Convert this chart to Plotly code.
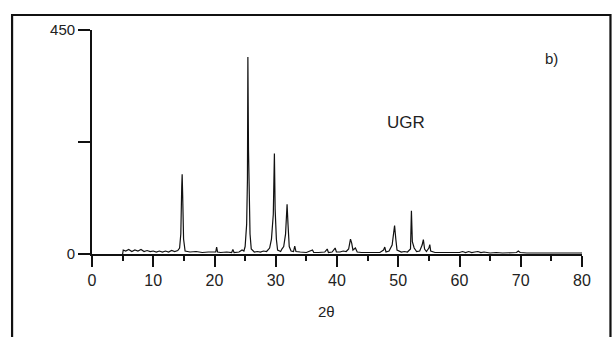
import plotly.graph_objects as go

# XRD pattern (2-theta in degrees, intensity)
two_theta = [5.0, 5.1, 5.5, 6.0, 6.5, 7.0, 7.5, 8.0, 8.5, 9.0, 9.5, 10.0, 10.5, 11.0, 11.5, 12.0, 12.5,
             13.0, 13.5, 14.0, 14.3, 14.5, 14.65, 14.72, 14.8, 14.95, 15.2, 16.0, 17.0, 18.0, 19.0, 20.0,
             20.2, 20.35, 20.5, 21.0, 22.0, 22.8, 23.0, 23.2, 24.0, 24.5, 24.8, 25.0, 25.25, 25.38, 25.45,
             25.55, 25.65, 25.8, 26.0, 26.5, 27.0, 27.5, 28.0, 28.5, 29.0, 29.3, 29.6, 29.78, 29.9, 30.1,
             30.3, 30.8, 31.0, 31.3, 31.6, 31.85, 32.0, 32.2, 32.5, 32.9, 33.1, 33.3, 34.0, 35.0, 36.0,
             36.2, 37.0, 38.0, 38.4, 38.6, 39.2, 39.7, 39.9, 40.5, 41.0, 41.5, 41.9, 42.2, 42.4, 42.6,
             43.0, 43.3, 44.0, 45.0, 46.0, 47.0, 47.6, 47.8, 48.0, 48.5, 49.0, 49.2, 49.4, 49.6, 49.8,
             50.5, 51.0, 51.5, 52.0, 52.15, 52.3, 52.6, 53.0, 53.5, 53.9, 54.1, 54.3, 54.6, 55.0, 55.15,
             55.3, 56.0, 57.0, 58.0, 59.0, 60.0, 60.5, 61.0, 61.5, 62.0, 62.5, 63.0, 63.5, 64.0, 65.0,
             66.0, 67.0, 68.0, 69.3, 69.6, 69.9, 71.0, 72.0, 75.0, 78.0, 80.0]
intensity = [0, 8, 6, 9, 5, 8, 6, 9, 5, 7, 5, 6, 4, 6, 4, 6, 4,
             7, 5, 7, 12, 40, 135, 160, 120, 30, 6, 4, 5, 3, 4, 3,
             4, 14, 4, 3, 4, 3, 9, 3, 4, 8, 6, 15, 60, 150, 396,
             210, 100, 40, 10, 4, 5, 4, 6, 5, 12, 30, 80, 202, 90, 30,
             8, 5, 10, 15, 40, 100, 60, 15, 6, 5, 16, 5, 4, 3, 8,
             3, 3, 4, 10, 3, 4, 12, 4, 4, 6, 5, 10, 30, 22, 8,
             12, 4, 3, 3, 4, 3, 8, 14, 4, 6, 18, 40, 57, 30, 8,
             4, 5, 4, 10, 87, 25, 12, 5, 6, 18, 29, 10, 5, 12, 19,
             6, 3, 3, 3, 2, 3, 5, 3, 5, 3, 4, 5, 3, 4, 2,
             3, 2, 3, 3, 6, 3, 2, 2, 2, 2, 2]

x_ticks = [0, 10, 20, 30, 40, 50, 60, 70, 80]
x_minor_ticks = [5, 15, 25, 35, 45, 55, 65, 75]
y_ticks = [0, 225, 450]
y_tick_text = ["0", "", "450"]

FONT = "Liberation Sans, Arial, sans-serif"

fig = go.Figure()
fig.add_trace(go.Scatter(x=two_theta, y=intensity, mode="lines",
                         line=dict(color="#111111", width=1.2), showlegend=False,
                         hoverinfo="skip"))

# plot area pixels: x 92..582.5, y 30..254
L, R, T, B = 92, 582.5, 30, 254
W, H = 614, 337

def px(xp):
    return (xp - L) / (R - L)

def py(yp):
    return (B - yp) / (B - T)

frame_line = dict(color="#111111", width=2.2)
fx0, fx1, fy_top, fy_bot = px(12), px(611), py(15), py(345)

fig.update_layout(
    width=W, height=H,
    margin=dict(l=L, r=W - R, t=T, b=H - B),
    paper_bgcolor="white", plot_bgcolor="white",
    font=dict(family=FONT, color="#222222", size=15),
    xaxis=dict(range=[0, 80], tickvals=x_ticks, ticks="outside", ticklen=11, tickwidth=1.5,
               tickcolor="#111111", showline=True, linecolor="#111111", linewidth=1.8,
               showgrid=False, zeroline=False, tickfont=dict(size=16, family=FONT),
               minor=dict(tickvals=x_minor_ticks, ticks="outside",
                          ticklen=5, tickwidth=1.5, tickcolor="#111111"),
               fixedrange=True),
    yaxis=dict(range=[0, 450], tickvals=y_ticks, ticktext=y_tick_text, ticks="outside",
               ticklen=12, tickwidth=1.5, tickcolor="#111111", showline=True,
               linecolor="#111111", linewidth=1.8, showgrid=False, zeroline=False,
               tickfont=dict(size=15, family=FONT), fixedrange=True),
    annotations=[
        dict(text="2θ", x=px(327), y=py(322), xref="paper", yref="paper",
             showarrow=False, font=dict(size=15, family=FONT)),
        dict(text="UGR", x=px(427), y=py(122), xref="paper", yref="paper",
             showarrow=False, font=dict(size=17, family=FONT)),
        dict(text="b)", x=px(560), y=py(48), xref="paper", yref="paper",
             showarrow=False, font=dict(size=15, family=FONT)),
    ],
    shapes=[
        dict(type="path", xref="paper", yref="paper",
             path=f"M {fx0} {fy_bot} L {fx0} {fy_top} L {fx1} {fy_top} L {fx1} {fy_bot}",
             line=frame_line, layer="above"),
    ],
)

fig.write_html("out.html", config={"displayModeBar": False})
